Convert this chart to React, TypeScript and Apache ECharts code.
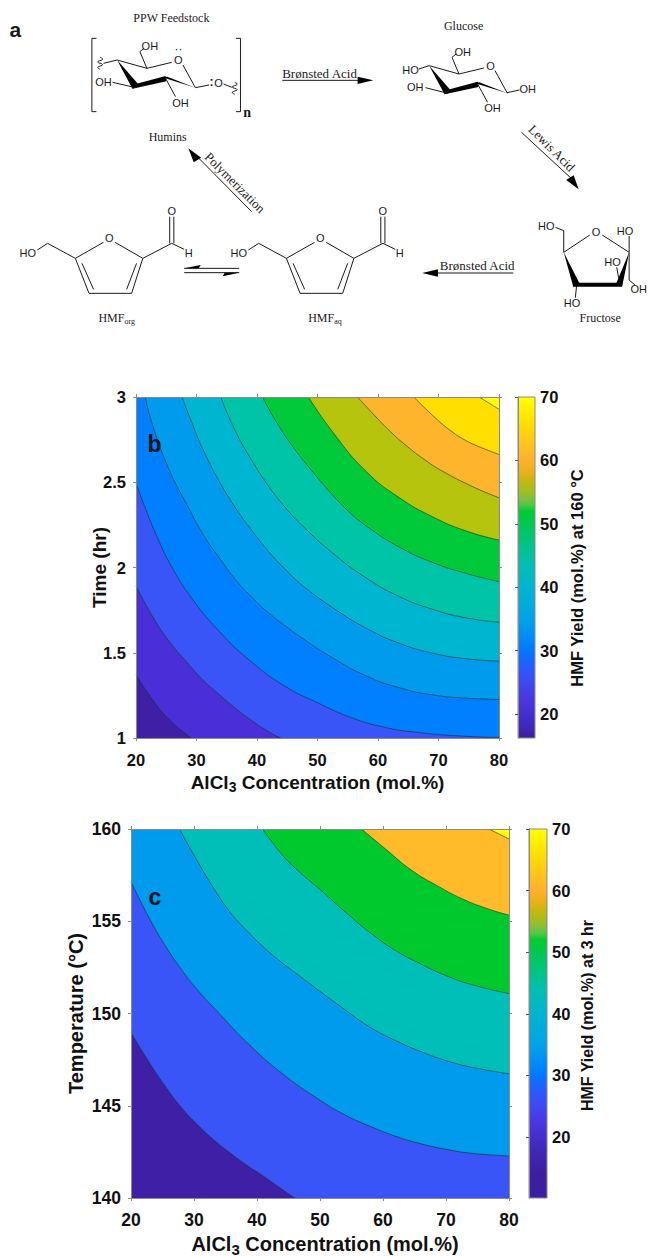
import React, { useEffect, useRef } from "react";
import * as echarts from "echarts";

// ---------- Panel b: contour lines, [AlCl3 mol.%, time hr] ----------
const bLevelColors = ["#3f1fa6", "#4a2fd9", "#3a55f7", "#0080ff", "#009bed", "#00b5d0", "#00c4a8", "#00c93a", "#b7c40e", "#ffb52b", "#ffdf00", "#ffff00"];
const bC1 = [[20, 1.371], [22.75, 1.224], [25.5, 1.107], [29.1, 1.0], [31.5, 0.94], [36, 0.85], [80, 0.8]];
const bC2 = [[20, 1.892], [22.75, 1.712], [25.5, 1.566], [28.3, 1.449], [31, 1.342], [33.8, 1.254], [36.5, 1.172], [39.3, 1.098], [42, 1.035], [43.9, 1.0], [46, 0.965], [50, 0.91], [80, 0.85]];
const bC3 = [[20, 2.493], [22.2, 2.288], [23.85, 2.151], [25.5, 2.03], [28.8, 1.84], [33.8, 1.624], [39.3, 1.44], [44.8, 1.3], [49.7, 1.212], [55.2, 1.125], [60.7, 1.066], [66.2, 1.034], [74.5, 1.01], [80, 1.004]];
const bC4 = [[21.54, 3], [22.75, 2.834], [25.5, 2.571], [28.3, 2.376], [31, 2.2], [33.9, 2.05], [36.5, 1.927], [39.3, 1.82], [42, 1.732], [44.8, 1.654], [47.5, 1.585], [52.5, 1.47], [58, 1.365], [63.5, 1.295], [69, 1.253], [74.5, 1.234], [80, 1.226]];
const bC5 = [[27.6, 3], [29.4, 2.834], [31, 2.698], [33.8, 2.503], [36.5, 2.347], [39.3, 2.21], [42, 2.09], [44.8, 1.985], [47.5, 1.895], [52.5, 1.765], [58, 1.645], [63.5, 1.556], [69, 1.498], [74.5, 1.465], [80, 1.451]];
const bC6 = [[34, 3], [36.5, 2.795], [39.3, 2.62], [42, 2.473], [44.8, 2.347], [47.5, 2.245], [52.5, 2.085], [58, 1.94], [63.5, 1.83], [69, 1.755], [74.5, 1.705], [80, 1.679]];
const bC7 = [[40.9, 3], [43.1, 2.86], [45.9, 2.71], [49.7, 2.54], [52.5, 2.425], [55.2, 2.327], [58, 2.245], [63.5, 2.12], [69, 2.03], [74.5, 1.966], [80, 1.917]];
const bC8 = [[48.5, 3], [52.5, 2.795], [58, 2.565], [63.5, 2.41], [69, 2.298], [74.5, 2.215], [80, 2.161]];
const bC9 = [[56.6, 3], [59.4, 2.893], [62.1, 2.795], [64.9, 2.708], [67.6, 2.635], [70.4, 2.57], [75.9, 2.47], [80, 2.409]];
const bC10 = [[65.9, 3], [69, 2.893], [71.8, 2.808], [74.5, 2.745], [77.3, 2.7], [80, 2.663]];
const bC11 = [[76.7, 3], [80, 2.928]];
const bContours = [bC1, bC2, bC3, bC4, bC5, bC6, bC7, bC8, bC9, bC10, bC11];

// ---------- Panel c: contour lines, [AlCl3 mol.%, temperature C] ----------
const cLevelColors = ["#3f1fa6", "#3a55f7", "#009bed", "#00bfb8", "#00c92e", "#ffbb2a", "#ffff00"];
const cK1 = [[20, 148.96], [22.65, 147.48], [25.3, 146.12], [27.9, 144.94], [30.6, 143.95], [33.2, 143.13], [35.9, 142.4], [38.5, 141.75], [41.2, 141.14], [43.8, 140.51], [46, 140], [49, 139.4], [54, 138.7], [80, 138]];
const cK2 = [[20, 157.14], [22.65, 155.33], [25.3, 153.75], [27.9, 152.43], [30.6, 151.26], [34, 150.0], [38.5, 148.4], [43.8, 146.8], [50, 145.3], [54, 144.5], [58, 143.88], [61.9, 143.36], [65.9, 142.95], [69.9, 142.65], [73.9, 142.43], [80, 142.28]];
const cK3 = [[27.7, 160], [30.6, 158.22], [33.2, 156.75], [35.9, 155.42], [38.5, 154.45], [41.2, 153.55], [43.8, 152.8], [46.5, 152.1], [50, 151.2], [54, 150.2], [58, 149.25], [61.9, 148.55], [65.9, 147.95], [69.9, 147.46], [73.9, 147.1], [80, 146.73]];
const cK4 = [[40.9, 160], [43.8, 158.68], [46.5, 157.75], [50, 156.72], [54, 155.51], [58, 154.37], [61.9, 153.43], [65.9, 152.7], [69.9, 152.07], [73.9, 151.58], [80, 151.08]];
const cK5 = [[56.6, 160], [60.6, 158.86], [64.6, 157.75], [68.6, 156.93], [72.5, 156.23], [76.5, 155.69], [80, 155.33]];
const cK6 = [[76.8, 160], [80, 159.46]];
const cContours = [cK1, cK2, cK3, cK4, cK5, cK6];

// ---------- Colour bar: yield level -> colour ----------
const barLevels = [70, 66, 62, 60, 58, 57, 55, 54, 53, 52, 50, 47, 44, 40, 35, 32, 30, 28, 26, 22, 18, 14, 10];
const barColors = ["#ffff00", "#ffe000", "#ffc020", "#ffb02c", "#e8b01c", "#c8b810", "#a0be20", "#80c040", "#50c840", "#00cc30", "#00c850", "#00c480", "#00c0b0", "#00b4d0", "#00a4e8", "#008cf8", "#0078ff", "#2060ff", "#3850f8", "#4a35e0", "#4028b8", "#3c1ea0", "#3c1ea0"];
const bBarRange = [16.2, 70];
const cBarRange = [10.1, 70];
const barTicks = [20, 30, 40, 50, 60, 70];

const FONT = "Liberation Sans";
const SERIF = "Liberation Serif";
const INK = "#1a1a1a";
const AXIS = "#8a8a8a";

// Scheme (panel a) drawn as decoration in a stretched drawing space.
const sx = (v: number) => v / 2.416;
const sy = (v: number) => v / 3;
function ln(x1: number, y1: number, x2: number, y2: number, w = 1) {
  return { type: "line", shape: { x1: sx(x1), y1: sy(y1), x2: sx(x2), y2: sy(y2) }, style: { stroke: INK, lineWidth: w } };
}
function poly(pts: number[][]) {
  return { type: "polygon", shape: { points: pts.map((p) => [sx(p[0]), sy(p[1])]) }, style: { fill: "#000" } };
}
function txt(t: string, x: number, y: number, size = 12, family = SERIF, extra: any = {}) {
  return {
    type: "text", x: sx(x), y: sy(y), rotation: extra.rotation || 0,
    style: { text: t, fontSize: size, fontFamily: family, fontWeight: extra.weight || "normal", fill: INK, align: "center", verticalAlign: "middle", rich: extra.rich },
  };
}
function atom(t: string, x: number, y: number) {
  return txt(t, x, y, 11, FONT);
}
function squiggle(x: number, y: number) {
  return {
    type: "polyline",
    shape: { points: [[x, y - 18], [x + 6, y - 12], [x - 6, y - 4], [x + 6, y + 4], [x - 6, y + 12], [x, y + 18]].map((p) => [sx(p[0]), sy(p[1])]), smooth: 0.5 },
    style: { stroke: INK, lineWidth: 1, fill: "none" },
  };
}
function pyranose(dx: number, dy: number) {
  const p = (x: number, y: number) => [x + dx, y + dy];
  const seg = (a: number[], b: number[], w = 1) => ln(a[0], a[1], b[0], b[1], w);
  return [
    seg(p(283, 180), p(355, 205)),
    seg(p(355, 205), p(415, 187)),
    seg(p(442, 195), p(472, 263)),
    poly([p(283, 180), p(338, 258), p(320, 266)]),
    poly([p(320, 266), p(328, 252), p(400, 228), p(402, 244)]),
    poly([p(392, 232), p(404, 230), p(472, 263)]),
    seg(p(355, 205), p(338, 155)),
    seg(p(338, 155), p(348, 145)),
    seg(p(400, 235), p(424, 290)),
  ];
}
function furan(dx: number) {
  const p = (x: number, y: number) => [x + dx, y];
  const seg = (a: number[], b: number[], w = 1) => ln(a[0], a[1], b[0], b[1], w);
  return [
    seg(p(250, 727), p(182, 775)),
    seg(p(278, 727), p(345, 775)),
    seg(p(182, 775), p(215, 880)),
    seg(p(345, 775), p(318, 880)),
    seg(p(215, 880), p(318, 880)),
    seg(p(198, 790), p(226, 868)),
    seg(p(330, 790), p(306, 868)),
    seg(p(182, 775), p(115, 730)),
    seg(p(115, 730), p(90, 750)),
    seg(p(345, 775), p(415, 730)),
    seg(p(410, 730), p(410, 650)),
    seg(p(420, 730), p(420, 650)),
    seg(p(415, 730), p(445, 748)),
    atom("HO", 67 + dx, 760),
    atom("O", 264 + dx, 715),
    atom("O", 415 + dx, 633),
    atom("H", 456 + dx, 760),
  ];
}

const scheme: any[] = [
  txt("a", 37, 88, 21, FONT, { weight: "bold" }),
  txt("PPW Feedstock", 414, 53),
  ln(233, 115, 222, 115), ln(222, 115, 222, 335), ln(222, 335, 233, 335),
  ln(570, 115, 581, 115), ln(581, 115, 581, 335), ln(581, 335, 570, 335),
  txt("n", 597, 337, 14, SERIF, { weight: "bold" }),
  ...pyranose(0, 0),
  ln(283, 180, 250, 190), squiggle(242, 190),
  ln(328, 263, 272, 247),
  ln(472, 263, 505, 255), squiggle(567, 265), ln(540, 252, 560, 262),
  atom("OH", 362, 137), atom("O", 431, 180), atom("OH", 250, 245), atom("OH", 436, 308), atom("O", 528, 248),
  txt("··", 431, 148, 12, FONT), txt(":", 511, 245, 12, FONT, { weight: "bold" }),

  txt("Brønsted Acid", 772, 220, 13),
  ln(682, 241, 870, 241), poly([[864, 230], [902, 241], [864, 252]]),

  txt("Glucose", 1120, 78),
  ...pyranose(754, 17),
  ln(1037, 197, 1012, 207), ln(1082, 280, 1028, 263), ln(1225, 278, 1255, 270),
  atom("OH", 1118, 155), atom("O", 1185, 198), atom("HO", 992, 210), atom("OH", 1003, 262), atom("OH", 1190, 325), atom("OH", 1275, 268),

  txt("Lewis Acid", 1333, 444, 13, SERIF, { rotation: -Math.PI / 4 }),
  ln(1260, 397, 1380, 535), poly([[1368, 540], [1386, 526], [1398, 568]]),

  txt("Humins", 405, 412),
  txt("Polymerization", 568, 548, 13, SERIF, { rotation: -Math.PI / 4 }),
  ln(608, 635, 475, 468), poly([[468, 487], [486, 473], [455, 445]]),

  ...furan(0),
  ...furan(510),
  txt("{a|HMF}{b|org}", 282, 955, 12, SERIF, { rich: { a: { fontSize: 12, fontFamily: SERIF, fill: INK }, b: { fontSize: 8, fontFamily: SERIF, fill: INK, padding: [6, 0, 0, 0] } } }),
  txt("{a|HMF}{b|aq}", 785, 955, 12, SERIF, { rich: { a: { fontSize: 12, fontFamily: SERIF, fill: INK }, b: { fontSize: 8, fontFamily: SERIF, fill: INK, padding: [6, 0, 0, 0] } } }),

  ln(445, 805, 578, 805), poly([[445, 805], [485, 795], [480, 805]]),
  ln(445, 818, 578, 818), poly([[578, 818], [538, 829], [543, 818]]),

  txt("Brønsted Acid", 1153, 797, 13),
  ln(1240, 819, 1050, 819), poly([[1058, 808], [1020, 819], [1058, 830]]),

  // fructose
  ln(1362, 757, 1425, 705), ln(1455, 705, 1520, 757),
  poly([[1362, 757], [1400, 850], [1385, 860]]),
  poly([[1385, 848], [1503, 848], [1503, 860], [1385, 860]]),
  poly([[1520, 757], [1503, 860], [1489, 850]]),
  ln(1362, 757, 1362, 692), ln(1362, 692, 1342, 682),
  ln(1520, 757, 1520, 708), ln(1520, 757, 1520, 840), ln(1520, 840, 1535, 856),
  ln(1497, 850, 1490, 802), ln(1393, 858, 1390, 893),
  atom("HO", 1320, 677), atom("O", 1440, 697), atom("HO", 1510, 692), atom("HO", 1480, 787), atom("OH", 1543, 868), atom("HO", 1382, 910),
  txt("Fructose", 1450, 953),
];

function contourSeries(contours: number[][][], colors: string[], xIndex: number, yIndex: number, xLo: number, xHi: number, yLo: number) {
  const base = {
    type: "line", xAxisIndex: xIndex, yAxisIndex: yIndex, showSymbol: false, symbol: "none", silent: true,
    data: [[xLo, yLo], [xHi, yLo]], lineStyle: { width: 0 }, areaStyle: { origin: "end", color: colors[0], opacity: 1 }, z: 2,
  };
  const rest = contours.map((data, i) => ({
    type: "line", xAxisIndex: xIndex, yAxisIndex: yIndex, showSymbol: false, symbol: "none", silent: true,
    smooth: 0.5, data,
    lineStyle: { width: 0.6, color: "#143020" }, areaStyle: { origin: "end", color: colors[i + 1], opacity: 1 }, z: 3 + i,
  }));
  return [base, ...rest];
}

function colorBar(range: number[], xIndex: number, yIndex: number) {
  const [lo, hi] = range;
  const stops = barLevels.map((v, i) => ({ offset: Math.min(1, (hi - v) / (hi - lo)), color: barColors[i] }));
  return {
    type: "custom", xAxisIndex: xIndex, yAxisIndex: yIndex, silent: true, z: 3, clip: false,
    data: [[lo, hi]],
    renderItem: (_: any, api: any) => {
      const a = api.coord([0, hi]);
      const b = api.coord([1, lo]);
      return {
        type: "rect",
        shape: { x: a[0], y: a[1], width: b[0] - a[0], height: b[1] - a[1] },
        style: { fill: new (echarts as any).graphic.LinearGradient(0, 0, 0, 1, stops), stroke: AXIS, lineWidth: 1 },
      };
    },
  };
}

const axisLabel = (size: number, margin: number) => ({ fontFamily: FONT, fontWeight: "bold", fontSize: size, color: "#111", margin });
const axisLine = { show: true, lineStyle: { color: AXIS, width: 1 } };
const tick = { show: true, length: 3, inside: false, lineStyle: { color: AXIS, width: 1 } };

function xPair(grid: number, size: number, titleSize: number, gap: number, shift: number) {
  const base = { type: "value", gridIndex: grid, min: 20, max: 80, interval: 10, splitLine: { show: false }, axisLine, axisTick: tick, z: 30 };
  return [
    {
      ...base, position: "bottom", axisLabel: axisLabel(size, 13),
      name: "{t|AlCl}{s|3}{t| Concentration (mol.%)}", nameLocation: "middle", nameGap: gap, nameMoveOverlap: false,
      nameTextStyle: {
        padding: [0, 0, 0, shift],
        rich: {
          t: { fontFamily: FONT, fontWeight: "bold", fontSize: titleSize, color: "#111", lineHeight: 22 },
          s: { fontFamily: FONT, fontWeight: "bold", fontSize: titleSize - 5, color: "#111", lineHeight: 22, padding: [10, 0, 0, 0] },
        },
      },
    },
    { ...base, position: "top", axisLabel: { show: false } },
  ];
}
function yPair(grid: number, min: number, max: number, interval: number, size: number, name: string, titleSize: number, gap: number) {
  const base = { type: "value", gridIndex: grid, min, max, interval, splitLine: { show: false }, axisLine, axisTick: tick, z: 30 };
  return [
    {
      ...base, position: "left", axisLabel: axisLabel(size, 10), name, nameLocation: "middle", nameGap: gap, nameMoveOverlap: false,
      nameTextStyle: { fontFamily: FONT, fontWeight: "bold", fontSize: titleSize, color: "#111" },
    },
    { ...base, position: "right", axisLabel: { show: false } },
  ];
}
function barAxes(grid: number, range: number[], name: string, titleSize: number, gap: number, shift: number) {
  return {
    x: { type: "value", gridIndex: grid, min: 0, max: 1, show: false },
    y: {
      type: "value", gridIndex: grid, position: "right", min: range[0], max: range[1],
      splitLine: { show: false }, z: 30,
      axisLine: { show: true, lineStyle: { color: AXIS, width: 1 } },
      axisTick: { show: true, inside: true, length: 3, lineStyle: { color: "#555", width: 1 }, customValues: barTicks },
      axisLabel: { ...axisLabel(16.5, 5), customValues: barTicks },
      name, nameLocation: "middle", nameGap: gap, nameRotate: 90, nameMoveOverlap: false,
      nameTextStyle: { fontFamily: FONT, fontWeight: "bold", fontSize: titleSize, color: "#111", padding: [0, shift, 0, 0] },
    },
  };
}

export default function App() {
  const ref = useRef<HTMLDivElement>(null);
  useEffect(() => {
    document.body.style.margin = "0";
    const chart = echarts.init(ref.current as HTMLDivElement, null, { renderer: "svg" });
    const bb = barAxes(2, bBarRange, "HMF Yield (mol.%) at 160 °C", 16.5, 33, 21);
    const cb = barAxes(3, cBarRange, "HMF Yield (mol.%) at 3 hr", 16, 32, 4);
    chart.setOption({
      animation: false,
      backgroundColor: "#fff",
      grid: [
        { left: 136, top: 397, width: 363, height: 341, outerBoundsMode: "none" },
        { left: 131, top: 829, width: 378, height: 369, outerBoundsMode: "none" },
        { left: 518, top: 397, width: 17, height: 341, outerBoundsMode: "none" },
        { left: 529, top: 829, width: 18, height: 369, outerBoundsMode: "none" },
      ],
      xAxis: [...xPair(0, 16.5, 19, 33, 0), ...xPair(1, 17.5, 20, 35, 10), bb.x, cb.x],
      yAxis: [
        ...yPair(0, 1, 3, 0.5, 16.5, "Time (hr)", 19, 27),
        ...yPair(1, 140, 160, 5, 17.5, "Temperature (°C)", 20, 45),
        bb.y, cb.y,
      ],
      series: [
        ...contourSeries(bContours, bLevelColors, 0, 0, 20, 80, 1),
        ...contourSeries(cContours, cLevelColors, 2, 2, 20, 80, 140),
        colorBar(bBarRange, 4, 4),
        colorBar(cBarRange, 5, 5),
      ],
      graphic: [
        ...scheme.map((g) => ({ ...g, z: 50 })),
        { type: "text", x: 154.5, y: 444, z: 60, style: { text: "b", fontFamily: FONT, fontWeight: "bold", fontSize: 23, fill: "#111", align: "center", verticalAlign: "middle" } },
        { type: "text", x: 155, y: 897, z: 60, style: { text: "c", fontFamily: FONT, fontWeight: "bold", fontSize: 23, fill: "#111", align: "center", verticalAlign: "middle" } },
      ],
    });
    return () => chart.dispose();
  }, []);
  return <div ref={ref} style={{ position: "absolute", left: 0, top: 0, width: 649, height: 1256, background: "#fff" }} />;
}
